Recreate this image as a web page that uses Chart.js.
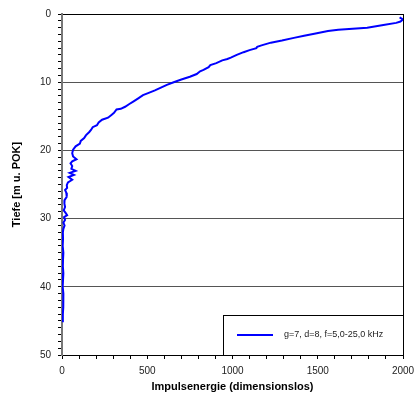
<!DOCTYPE html>
<html>
<head>
<meta charset="utf-8">
<script src="https://cdn.jsdelivr.net/npm/chart.js@4"></script>
<style>
html,body{margin:0;padding:0;background:#fff;}
#wrap{position:relative;width:414px;height:396px;}
</style>
</head>
<body>
<div id="wrap"><canvas id="c" width="414" height="396"></canvas></div>
<script>
const seriesLabel = 'g=7, d=8, f=5,0-25,0 kHz';
const depth = [0.5,0.8,1.1,1.3,1.6,2.0,2.3,2.5,2.9,3.2,3.5,3.9,4.2,4.6,4.8,5.0,5.3,5.6,6.0,6.4,6.6,6.8,7.2,7.5,7.8,8.2,8.4,8.8,9.2,9.6,10.0,10.4,10.8,11.2,11.6,11.9,12.4,12.8,13.2,13.6,13.9,14.0,14.5,14.8,15.2,15.5,15.9,16.3,16.6,17.0,17.3,17.8,18.2,18.6,19.0,19.4,19.9,20.4,20.9,21.3,21.6,21.9,22.3,22.7,23.0,23.3,23.6,23.9,24.3,24.7,25.1,25.5,25.8,26.2,26.8,27.3,27.8,28.3,28.8,29.2,29.5,29.8,30.2,30.6,31.0,31.5,32.0,33.0,34.0,35.0,36.0,37.0,38.0,39.0,40.0,41.0,42.0,43.0,44.0,45.2];
const energy = [1980,2000,1985,1960,1885,1790,1620,1560,1480,1420,1360,1290,1225,1170,1145,1140,1100,1065,1025,990,970,940,905,870,860,830,810,790,750,700,655,615,580,545,505,475,445,420,395,370,345,320,305,290,270,235,215,205,180,170,160,140,130,110,105,80,65,60,65,85,60,50,60,55,80,45,70,38,60,35,28,30,18,25,28,15,14,18,10,22,30,12,18,8,15,8,5,6,4,8,6,5,8,6,4,8,6,9,5,5];
const xTickLabels = [0,500,1000,1500,2000];
const yTickLabels = [0,10,20,30,40,50];

const FONT = "'Liberation Sans', Arial, sans-serif";

const legendBox = {
  id: 'legendBox',
  afterDraw(chart) {
    const ctx = chart.ctx, a = chart.chartArea;
    const ds = chart.data.datasets[0];
    const w = 180, h = 40;
    const x0 = Math.round(a.right) - w, y0 = Math.round(a.bottom) - h;
    ctx.save();
    ctx.fillStyle = '#fff';
    ctx.fillRect(x0, y0, w, h);
    ctx.strokeStyle = '#000';
    ctx.lineWidth = 1;
    ctx.strokeRect(x0 + 0.5, y0 + 0.5, w, h);
    ctx.strokeStyle = ds.borderColor;
    ctx.lineWidth = 2;
    ctx.beginPath();
    ctx.moveTo(x0 + 14, y0 + 20);
    ctx.lineTo(x0 + 50, y0 + 20);
    ctx.stroke();
    ctx.fillStyle = '#222';
    ctx.font = '9px ' + FONT;
    ctx.textBaseline = 'middle';
    ctx.fillText(ds.label, x0 + 61, y0 + 20);
    ctx.restore();
  }
};

new Chart(document.getElementById('c'), {
  type: 'scatter',
  data: {
    datasets: [{
      label: seriesLabel,
      data: depth.map((d, i) => ({x: energy[i], y: d})),
      showLine: true,
      borderColor: '#0000ff',
      borderWidth: 2,
      pointRadius: 0,
      tension: 0
    }]
  },
  options: {
    responsive: false,
    animation: false,
    layout: {padding: {top: 14, right: 11, left: 0, bottom: 0}},
    plugins: {legend: {display: false}, tooltip: {enabled: false}},
    scales: {
      x: {
        type: 'linear', min: 0, max: 2000,
        afterFit(s) { s.height = 41; s.paddingRight = 0; s.paddingLeft = 0; },
        ticks: {
          stepSize: 100, autoSkip: false, maxRotation: 0,
          color: '#222', font: {family: FONT, size: 10}, padding: 6,
          callback: v => xTickLabels.includes(v) ? String(v) : ''
        },
        grid: {
          drawOnChartArea: true, tickLength: 4,
          color: c => c.tick && c.tick.value === 2000 ? '#000' : 'rgba(0,0,0,0)',
          tickColor: '#000'
        },
        border: {display: true, color: '#000', width: 1},
        title: {display: true, text: 'Impulsenergie (dimensionslos)', color: '#000',
          font: {family: FONT, size: 11, weight: 'bold'}, padding: {top: 0, bottom: 2}}
      },
      y: {
        type: 'linear', min: 0, max: 50, reverse: true,
        afterFit(s) { s.width = 62; s.paddingTop = 0; s.paddingBottom = 0; },
        ticks: {
          stepSize: 1, autoSkip: false,
          color: '#222', font: {family: FONT, size: 10}, padding: 7,
          callback: v => yTickLabels.includes(v) ? String(v) : ''
        },
        grid: {
          tickLength: 4,
          color: c => {
            if (!c.tick) return 'rgba(0,0,0,0)';
            const v = c.tick.value;
            if (v === 0 || v === 50) return '#000';
            if (v % 10 === 0) return '#555';
            return 'rgba(0,0,0,0)';
          },
          tickColor: '#000'
        },
        border: {display: true, color: '#777', width: 2},
        title: {display: true, text: 'Tiefe [m u. POK]', color: '#000',
          font: {family: FONT, size: 11, weight: 'bold'}, padding: {top: 10, bottom: 0}}
      }
    }
  },
  plugins: [legendBox]
});
</script>
</body>
</html>
